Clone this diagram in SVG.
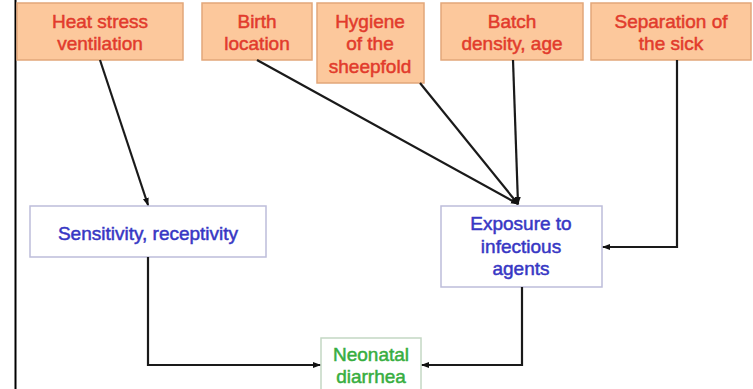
<svg xmlns="http://www.w3.org/2000/svg" width="753" height="389" viewBox="0 0 753 389">
<style>
.o{fill:#FCC89C;stroke:#E2A77A;stroke-width:1.5}
.b{fill:#fff;stroke:#BDBDDA;stroke-width:1.5}
.g{fill:#fff;stroke:#C4D8C4;stroke-width:1.5}
text{font-family:"Liberation Sans",Arial,sans-serif;font-size:19px;text-anchor:middle;stroke-width:0.5}
.to{fill:#E23B2C;stroke:#E23B2C}
.tb{fill:#3737C4;stroke:#3737C4}
.tg{fill:#37AE3F;stroke:#37AE3F}
.c{fill:none;stroke:#1a1a1a;stroke-width:2.2}
</style>
<defs>
<marker id="ah" markerWidth="8" markerHeight="8" refX="7" refY="4" orient="auto" markerUnits="userSpaceOnUse">
<path d="M0,1 L8,4 L0,7 Z" fill="#111"/>
</marker>
</defs>
<rect x="0" y="0" width="753" height="389" fill="#fff"/>
<line x1="15.5" y1="0" x2="15.5" y2="389" stroke="#000" stroke-width="2"/>
<g id="heat">
<rect class="o" x="17" y="3" width="166" height="57"/>
<text class="to" x="100" y="28">Heat stress</text>
<text class="to" x="100" y="50">ventilation</text>
</g>
<g id="birth">
<rect class="o" x="202" y="3" width="110" height="57"/>
<text class="to" x="257" y="28">Birth</text>
<text class="to" x="257" y="50">location</text>
</g>
<g id="hygiene">
<rect class="o" x="317" y="3" width="107" height="80"/>
<text class="to" x="370" y="28">Hygiene</text>
<text class="to" x="370" y="50">of the</text>
<text class="to" x="370" y="73">sheepfold</text>
</g>
<g id="batch">
<rect class="o" x="441" y="3" width="142" height="57"/>
<text class="to" x="512" y="28">Batch</text>
<text class="to" x="512" y="50">density, age</text>
</g>
<g id="separation">
<rect class="o" x="591" y="3" width="160" height="57"/>
<text class="to" x="671" y="28">Separation of</text>
<text class="to" x="671" y="50">the sick</text>
</g>
<g id="sensitivity">
<rect class="b" x="30" y="206" width="236" height="51"/>
<text class="tb" x="148" y="240">Sensitivity, receptivity</text>
</g>
<g id="exposure">
<rect class="b" x="441" y="206" width="161" height="81"/>
<text class="tb" x="521" y="230">Exposure to</text>
<text class="tb" x="521" y="253">infectious</text>
<text class="tb" x="521" y="275">agents</text>
</g>
<g id="neonatal">
<rect class="g" x="321" y="338" width="100" height="60"/>
<text class="tg" x="371" y="361">Neonatal</text>
<text class="tg" x="371" y="383">diarrhea</text>
</g>
<g id="connectors">
<path class="c" d="M100,60 L148,205" marker-end="url(#ah)"/>
<path class="c" d="M257,60 L518,204" marker-end="url(#ah)"/>
<path class="c" d="M420,83 L518,204" marker-end="url(#ah)"/>
<path class="c" d="M513,60 L518,204" marker-end="url(#ah)"/>
<path class="c" d="M677,60 L677,247 L603,247" marker-end="url(#ah)"/>
<path class="c" d="M148,257 L148,365 L320,365" marker-end="url(#ah)"/>
<path class="c" d="M522,287 L522,365 L422,365" marker-end="url(#ah)"/>
</g>
</svg>
